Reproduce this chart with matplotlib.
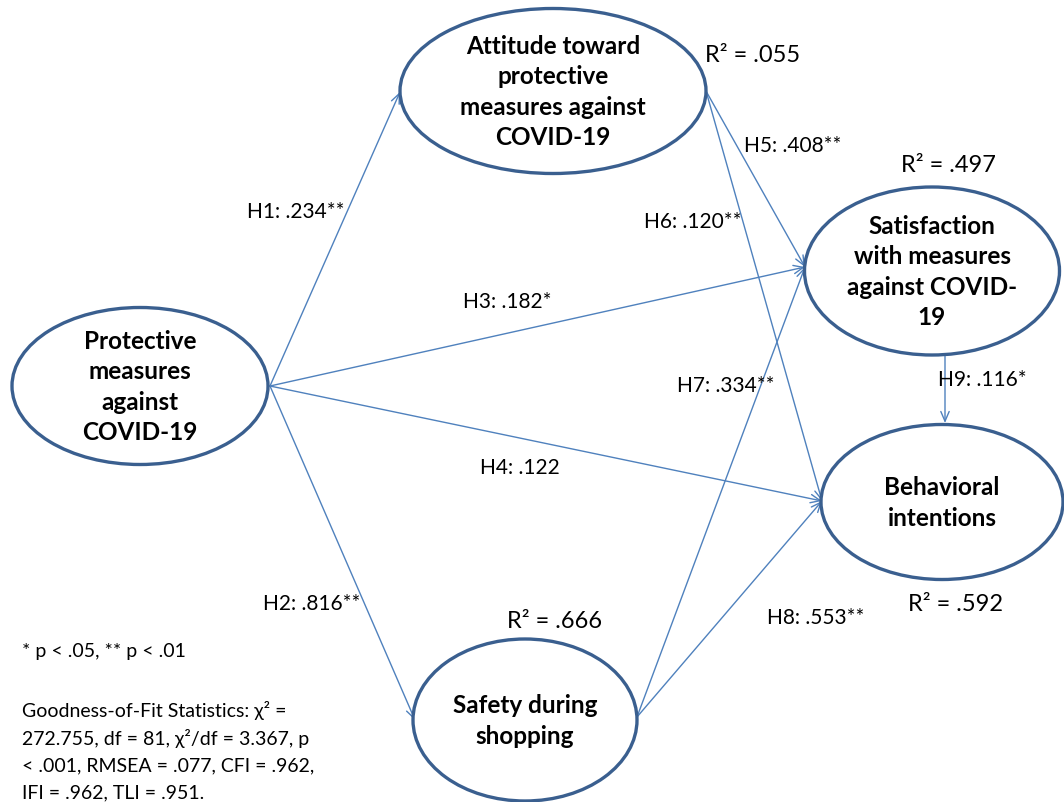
import matplotlib.pyplot as plt
from matplotlib.patches import Ellipse

# path diagram, figure drawn in pixel coordinates (1064 x 803)
C_EDGE = "#3A5F8F"
C_LINE = "#4F81BD"
FONT = "Lato"

node_names  = ["prot", "att", "sat", "beh", "safe"]
node_labels = ["Protective\nmeasures\nagainst\nCOVID-19",
               "Attitude toward\nprotective\nmeasures against\nCOVID-19",
               "Satisfaction\nwith measures\nagainst COVID-\n19",
               "Behavioral\nintentions",
               "Safety during\nshopping"]
node_xy     = [(140, 387), (553, 92), (932, 272), (942, 503), (525, 721)]
node_wh     = [(256, 157), (306, 165), (255, 168), (242, 155), (224, 162)]

path_from   = ["prot", "prot", "prot", "prot", "att", "att", "safe", "safe", "sat"]
path_to     = ["att", "safe", "sat", "beh", "sat", "beh", "sat", "beh", "beh"]
path_start  = [(270, 387), (270, 387), (270, 387), (270, 387),
               (706, 92), (706, 92), (637, 718), (637, 718), (945, 356)]
path_end    = [(400, 93), (415, 721), (805, 268), (822, 502),
               (805, 268), (822, 502), (805, 268), (822, 502), (945, 424)]
path_labels = ["H1: .234**", "H2: .816**", "H3: .182*", "H4: .122",
               "H5: .408**", "H6: .120**", "H7: .334**", "H8: .553**", "H9: .116*"]
path_lab_xy = [(296, 212), (312, 604), (507, 302), (520, 468),
               (793, 146), (693, 222), (726, 386), (816, 618), (982, 380)]

r2_labels = ["R² = .055", "R² = .497", "R² = .666", "R² = .592"]
r2_xy     = [(753, 56), (948, 166), (555, 622), (956, 605)]

note_text = "* p < .05, ** p < .01"
fit_lines = ["Goodness-of-Fit Statistics: χ² =",
             "272.755, df = 81, χ²/df = 3.367, p",
             "< .001, RMSEA = .077, CFI = .962,",
             "IFI = .962, TLI = .951."]


def main():
    fig = plt.figure(figsize=(10.64, 8.03), dpi=100)
    ax = fig.add_axes([0, 0, 1, 1])
    ax.set_xlim(0, 1064)
    ax.set_ylim(803, 0)
    ax.axis("off")

    for (x0, y0), (x1, y1) in zip(path_start, path_end):
        ax.annotate("", xy=(x1, y1), xytext=(x0, y0),
                    arrowprops=dict(arrowstyle="->,head_length=0.7,head_width=0.3",
                                    color=C_LINE, lw=1.0,
                                    shrinkA=0, shrinkB=0))

    for lab, (x, y), (w, h) in zip(node_labels, node_xy, node_wh):
        ax.add_patch(Ellipse((x, y), w, h, facecolor="white",
                             edgecolor=C_EDGE, lw=2.4, zorder=3))
        ax.text(x, y, lab, ha="center", va="center", fontsize=17.5,
                fontweight="bold", family=FONT, linespacing=1.38, zorder=4)

    for lab, (x, y) in zip(path_labels, path_lab_xy):
        ax.text(x, y, lab, ha="center", va="center", fontsize=15, family=FONT)

    for lab, (x, y) in zip(r2_labels, r2_xy):
        ax.text(x, y, lab, ha="center", va="center", fontsize=17, family=FONT)

    ax.text(22, 652, note_text, ha="left", va="center", fontsize=14, family=FONT)
    for i, line in enumerate(fit_lines):
        ax.text(22, 711 + i * 27.3, line, ha="left", va="center",
                fontsize=14, family=FONT)

    fig.savefig("out.png", dpi=100)


if __name__ == "__main__":
    main()
